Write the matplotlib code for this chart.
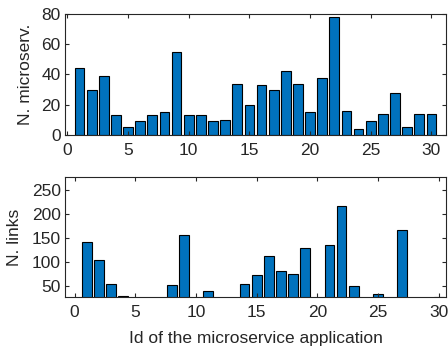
import matplotlib
matplotlib.use("Agg")
import matplotlib.pyplot as plt
import numpy as np

plt.rcParams['font.family'] = ['Liberation Sans', 'DejaVu Sans']

app_ids = list(range(1, 31))
n_microservices = [44, 30, 39, 13, 5, 9, 13, 15, 55, 13,
                   13, 9, 10, 34, 20, 33, 30, 42, 34, 15,
                   38, 78, 16, 4, 9, 14, 28, 5, 14, 14]
n_links = [142, 104, 55, 30, 4, 10, 14, 52, 156, 14,
           41, 9, 11, 56, 74, 113, 81, 75, 129, 18,
           135, 217, 51, 3, 34, 15, 167, 4, 17, 29]

top_yticks = [0, 20, 40, 60, 80]
bottom_yticks = [50, 100, 150, 200, 250]
xticks = [0, 5, 10, 15, 20, 25, 30]

bar_color = '#0072BD'
axis_color = '#262626'

fig = plt.figure(figsize=(4.48, 3.49), dpi=100)
ax1 = fig.add_axes([0.145, 0.6132, 0.8504, 0.3467])
ax2 = fig.add_axes([0.145, 0.149, 0.8504, 0.3438])


def style(ax):
    for s in ax.spines.values():
        s.set_color(axis_color)
        s.set_linewidth(0.8)
    ax.tick_params(direction='in', length=3, width=0.8, colors=axis_color,
                   labelcolor=axis_color, labelsize=12.5,
                   top=True, right=True)
    ax.tick_params(axis='x', pad=5.5)
    ax.tick_params(axis='y', pad=3)


ax1.bar(app_ids, n_microservices, width=0.8, color=bar_color,
        edgecolor='black', linewidth=0.8)
ax1.set_xlim(-0.2, 31.2)
ax1.set_ylim(0, 80)
ax1.set_yticks(top_yticks)
ax1.set_xticks(xticks)
ax1.set_ylabel('N. microserv.', fontsize=12.5, color=axis_color, labelpad=6)
style(ax1)

ax2.bar(app_ids, n_links, width=0.8, color=bar_color,
        edgecolor='black', linewidth=0.8)
ax2.set_xlim(-0.8, 30.6)
ax2.set_ylim(28, 277)
ax2.set_yticks(bottom_yticks)
ax2.set_xticks(xticks)
ax2.set_ylabel('N. links', fontsize=12.5, color=axis_color, labelpad=7)
ax2.set_xlabel('Id of the microservice application', fontsize=12.5,
               color=axis_color, labelpad=8)
style(ax2)

fig.savefig('out.png', dpi=100)
